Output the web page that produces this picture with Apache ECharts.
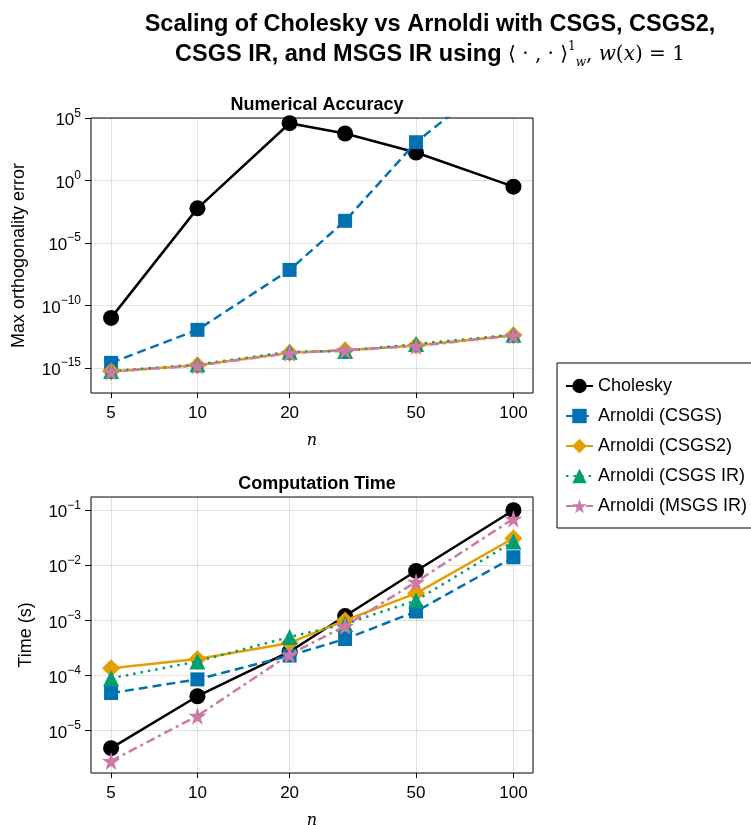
<!DOCTYPE html>
<html>
<head>
<meta charset="utf-8">
<script src="https://cdn.jsdelivr.net/npm/echarts@6/dist/echarts.min.js"></script>
<style>
  html, body { margin: 0; padding: 0; background: #fff; }
  #main { width: 751px; height: 825px; }
</style>
</head>
<body>
<div id="main"></div>
<script>
// problem sizes
var sizes = [5, 10, 20, 30, 50, 100];
var xTicks = [5, 10, 20, 50, 100];

// max orthogonality error
var cholErr   = [1e-11, 6e-3, 4e4, 6e3, 180, 0.33];
var csgsErr   = [2.5e-15, 1.1e-12, 7e-8, 6e-4, 1.2e3, 2e9];
var csgs2Err  = [5e-16, 1.6e-15, 1.6e-14, 2.5e-14, 6e-14, 4e-13];
var csgsIrErr = [5.5e-16, 1.8e-15, 1.9e-14, 2.2e-14, 8e-14, 4.5e-13];
var msgsIrErr = [5e-16, 1.5e-15, 1.5e-14, 2.6e-14, 5.5e-14, 3.8e-13];

// computation time (s)
var cholTime   = [4.8e-6, 4.2e-5, 2.7e-4, 1.2e-3, 7.9e-3, 0.1];
var csgsTime   = [4.8e-5, 8.5e-5, 2.3e-4, 4.6e-4, 1.45e-3, 1.4e-2];
var csgs2Time  = [1.35e-4, 2.0e-4, 3.9e-4, 1.0e-3, 3.1e-3, 3.1e-2];
var csgsIrTime = [8.9e-5, 1.8e-4, 5e-4, 8.6e-4, 2.3e-3, 2.7e-2];
var msgsIrTime = [2.8e-6, 1.85e-5, 2.4e-4, 7.9e-4, 5e-3, 7e-2];

var errTicks = [-15, -10, -5, 0, 5];
var timeTicks = [-5, -4, -3, -2, -1];

// x axis is pseudolog10: log10(n + 1)
function px(n) { return Math.log10(n + 1); }
function pairs(vals) {
    return sizes.map(function (n, i) { return [px(n), Math.log10(vals[i])]; });
}

var starPath = 'path://M50,0 L61,35 L98,35 L68,57 L79,91 L50,70 L21,91 L32,57 L2,35 L39,35 Z';
var styles = [
    {name: 'Cholesky', color: '#000000', symbol: 'circle', size: 16, type: 'solid'},
    {name: 'Arnoldi (CSGS)', color: '#0072B2', symbol: 'rect', size: 14, type: [9, 5]},
    {name: 'Arnoldi (CSGS2)', color: '#E69F00', symbol: 'diamond', size: 18, type: 'solid'},
    {name: 'Arnoldi (CSGS IR)', color: '#009E73', symbol: 'triangle', size: 16, type: [2.5, 5]},
    {name: 'Arnoldi (MSGS IR)', color: '#CC79A7', symbol: starPath, size: 18, type: [9, 4, 3, 4]}
];
var errSets = [cholErr, csgsErr, csgs2Err, csgsIrErr, msgsIrErr];
var timeSets = [cholTime, csgsTime, csgs2Time, csgsIrTime, msgsIrTime];

function powLabel(v) {
    return '{b|10}{s|' + (v < 0 ? '\u2212' + (-v) : v) + '}';
}
var powRich = {
    b: {fontSize: 17, color: '#000', fontFamily: 'Liberation Sans', verticalAlign: 'bottom', lineHeight: 18},
    s: {fontSize: 12, color: '#000', fontFamily: 'Liberation Sans', verticalAlign: 'top', padding: [0, 0, 10, 0]}
};

function makeX(gi) {
    return {
        type: 'value', gridIndex: gi, min: 0.717, max: 2.064,
        name: 'n', nameLocation: 'middle', nameGap: 40,
        nameTextStyle: {fontFamily: 'DejaVu Serif', fontStyle: 'italic', fontSize: 16, color: '#000'},
        axisLine: {show: false, onZero: false},
        axisTick: {show: true, length: 5, lineStyle: {color: '#000'}, customValues: xTicks.map(px)},
        axisLabel: {
            customValues: xTicks.map(px), margin: 12, fontSize: 17, color: '#000', fontFamily: 'Liberation Sans',
            formatter: function (v) { return String(Math.round(Math.pow(10, v) - 1)); }
        },
        splitLine: {show: true, lineStyle: {color: 'rgba(0,0,0,0.12)', width: 1}}
    };
}
function makeY(gi, min, max, ticks, name, gap) {
    return {
        type: 'value', gridIndex: gi, min: min, max: max,
        name: name, nameLocation: 'middle', nameGap: gap,
        nameTextStyle: {fontFamily: 'Liberation Sans', fontSize: 18, color: '#000'},
        axisLine: {show: false, onZero: false},
        axisTick: {show: true, length: 6, lineStyle: {color: '#000'}, customValues: ticks},
        axisLabel: {customValues: ticks, margin: 10, formatter: powLabel, rich: powRich},
        splitLine: {show: true, lineStyle: {color: 'rgba(0,0,0,0.12)', width: 1}}
    };
}

var series = [];
[errSets, timeSets].forEach(function (sets, gi) {
    sets.forEach(function (vals, k) {
        var st = styles[k];
        series.push({
            name: st.name, type: 'line', xAxisIndex: gi, yAxisIndex: gi,
            data: pairs(vals), clip: true,
            symbol: st.symbol, symbolSize: st.size, showAllSymbol: true,
            itemStyle: {color: st.color},
            lineStyle: {color: st.color, width: 2.5, type: st.type},
            emphasis: {disabled: true}, z: 2 + k
        });
    });
});

var myChart = echarts.init(document.getElementById('main'));
var mathStyle = {fontFamily: 'DejaVu Serif', fontWeight: 'normal', fontSize: 20, color: '#000', lineHeight: 28};
var option = {
    animation: false,
    backgroundColor: '#fff',
    title: [{
        text: 'Scaling of Cholesky vs Arnoldi with CSGS, CSGS2,',
        left: 425, top: 8, textAlign: 'center',
        textStyle: {fontFamily: 'Liberation Sans', fontWeight: 'bold', fontSize: 23.5, color: '#000'}
    }, {
        text: '{t|CSGS IR, and MSGS IR using }{m|\u27E8 \u00B7 , \u00B7 \u27E9}{p|1}{q|w}{m|, }{i|w}{m|(}{i|x}{m|) = 1}',
        left: 425, top: 36, textAlign: 'center',
        textStyle: {
            rich: {
                t: {fontFamily: 'Liberation Sans', fontWeight: 'bold', fontSize: 23.5, color: '#000', lineHeight: 28},
                m: mathStyle,
                i: Object.assign({}, mathStyle, {fontStyle: 'italic'}),
                p: {fontFamily: 'DejaVu Serif', fontWeight: 'normal', fontSize: 12, color: '#000', verticalAlign: 'top', padding: [0, 0, 14, 0]},
                q: {fontFamily: 'DejaVu Serif', fontWeight: 'normal', fontStyle: 'italic', fontSize: 12, color: '#000', verticalAlign: 'bottom', padding: [12, 0, 0, 0]}
            }
        }
    }, {
        text: 'Numerical Accuracy', left: 312, top: 91, textAlign: 'center',
        textStyle: {fontFamily: 'Liberation Sans', fontWeight: 'bold', fontSize: 18, color: '#000'}
    }, {
        text: 'Computation Time', left: 312, top: 470, textAlign: 'center',
        textStyle: {fontFamily: 'Liberation Sans', fontWeight: 'bold', fontSize: 18, color: '#000'}
    }],
    legend: {
        data: styles.map(function (s) { return s.name; }),
        orient: 'vertical', left: 557, top: 363,
        backgroundColor: '#fff', borderColor: '#000', borderWidth: 1,
        padding: [14, 10, 13, 8], itemGap: 12, itemWidth: 27, itemHeight: 18,
        textStyle: {fontFamily: 'Liberation Sans', fontSize: 18, lineHeight: 18, color: '#000'},
        selectedMode: false
    },
    grid: [
        {left: 91, top: 118, width: 442, height: 275, show: true, borderColor: '#000', borderWidth: 1,
         backgroundColor: '#fff', outerBoundsMode: 'none', containLabel: false},
        {left: 91, top: 497, width: 442, height: 276, show: true, borderColor: '#000', borderWidth: 1,
         backgroundColor: '#fff', outerBoundsMode: 'none', containLabel: false}
    ],
    xAxis: [makeX(0), makeX(1)],
    yAxis: [
        makeY(0, -17.02, 5.02, errTicks, 'Max orthogonality error', 63),
        makeY(1, -5.77, -0.76, timeTicks, 'Time (s)', 56)
    ],
    series: series
};
myChart.setOption(option);
</script>
</body>
</html>
